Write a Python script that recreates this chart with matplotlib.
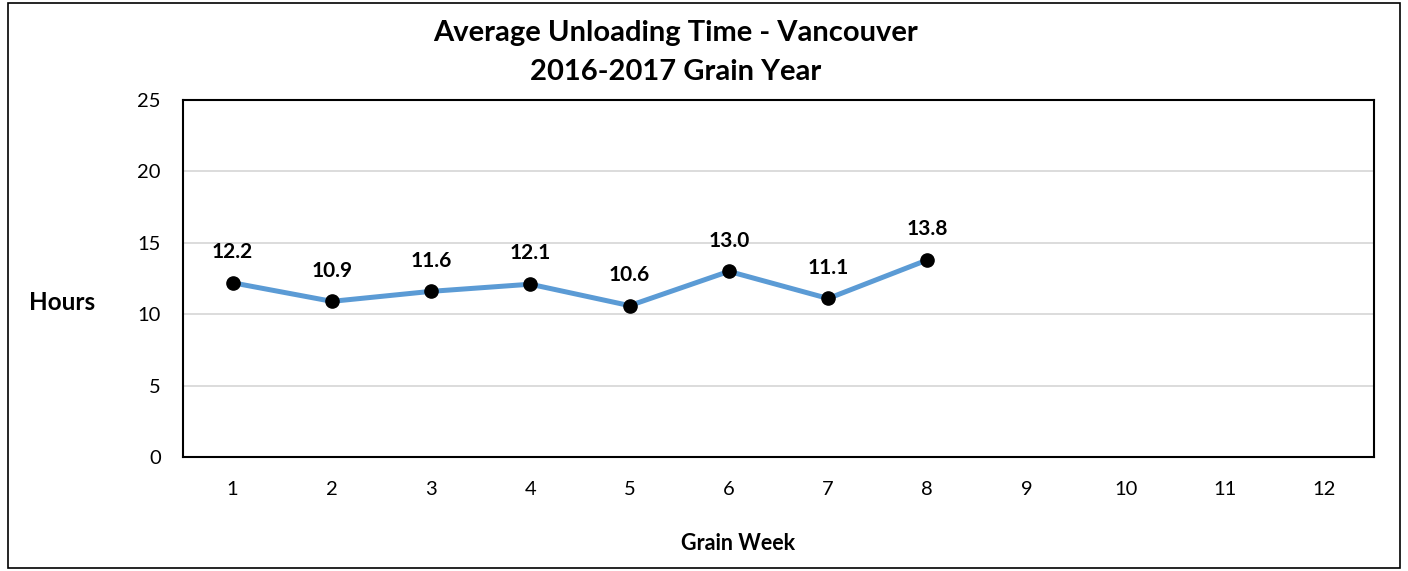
import matplotlib.pyplot as plt
from matplotlib.patches import Rectangle

plt.rcParams['font.family'] = ['Lato', 'DejaVu Sans']

weeks = list(range(1, 13))
week_labels = [str(w) for w in weeks]
data_weeks = [1, 2, 3, 4, 5, 6, 7, 8]
hours = [12.2, 10.9, 11.6, 12.1, 10.6, 13.0, 11.1, 13.8]

fig = plt.figure(figsize=(14.08, 5.71), dpi=100)
ax = fig.add_axes([183 / 1408, 1 - 457 / 571, (1374 - 183) / 1408, (457 - 100) / 571])

# outer chart border
fig.patches.append(Rectangle((8 / 1408, 3 / 571), 1392 / 1408, 565 / 571,
                             transform=fig.transFigure, fill=False,
                             edgecolor='black', linewidth=1.2))

ax.plot(data_weeks, hours, color='#5B9BD5', linewidth=3.6, zorder=3)
ax.plot(data_weeks, hours, 'o', color='black', markersize=9.5, zorder=4)
for x, y in zip(data_weeks, hours):
    ax.annotate(f'{y:.1f}', (x, y), xytext=(0, 15), textcoords='offset points',
                ha='center', va='bottom', fontsize=15, fontweight='bold')

ax.set_xlim(0.5, 12.5)
ax.set_ylim(0, 25)
ax.set_xticks(weeks)
ax.set_xticklabels(week_labels)
ax.set_yticks([0, 5, 10, 15, 20, 25])
ax.tick_params(axis='both', length=0, labelsize=14.5)
ax.tick_params(axis='x', pad=17)
ax.tick_params(axis='y', pad=16)
ax.yaxis.grid(True, color='#D9D9D9', linewidth=1.3)
ax.set_axisbelow(True)
for s in ax.spines.values():
    s.set_color('black')
    s.set_linewidth(1.5)

fig.text(676 / 1408, 1 - 33 / 571, 'Average Unloading Time - Vancouver',
         ha='center', va='center', fontsize=21, fontweight='bold')
fig.text(676 / 1408, 1 - 72 / 571, '2016-2017 Grain Year',
         ha='center', va='center', fontsize=21, fontweight='bold')
fig.text(62 / 1408, 1 - 303 / 571, 'Hours', ha='center', va='center',
         fontsize=17.5, fontweight='bold')
fig.text(738 / 1408, 1 - 543 / 571, 'Grain Week', ha='center', va='center',
         fontsize=15.5, fontweight='bold')

fig.savefig('out.png', dpi=100)
